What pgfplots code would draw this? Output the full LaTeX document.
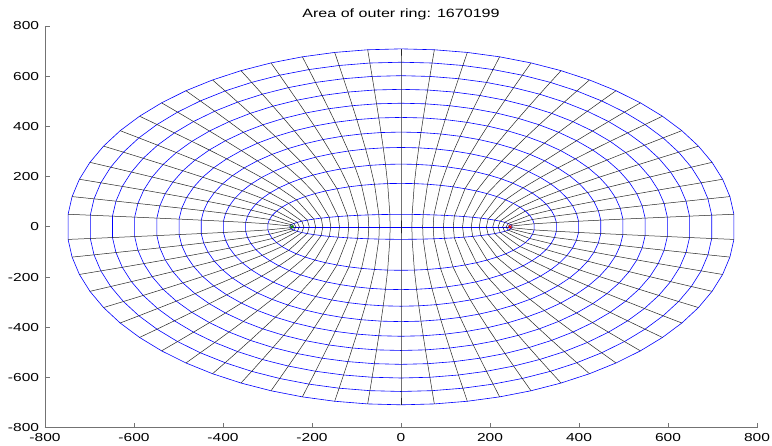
\documentclass[border=0pt]{standalone}
\usepackage{fontspec}
\setmainfont{Liberation Sans}[FakeStretch=1.34]
\usepackage{pgfplots}
\usepackage{pgfplotstable}
\pgfplotsset{compat=1.18}
\newcount\myq
% grid points: 12 rings (confocal ellipses, foci at +-245) x 63 rows (62 points + closing point)
\pgfplotstableread[row sep=\\]{
x y\\
0 0\\ 24.5 0\\ 48.7 0\\ 72.4 0\\ 95.4 0\\ 117.5 0\\ 138.3 0\\ 157.8 0\\ 175.8 0\\ 191.9 0\\ 206.2 0\\ 218.3 0\\ 228.4 0\\ 236.1 0\\ 241.4 0\\ 244.4 0\\
244.4 0\\ 241.4 0\\ 236.1 0\\ 228.4 0\\ 218.3 0\\ 206.2 0\\ 191.9 0\\ 175.8 0\\ 157.8 0\\ 138.3 0\\ 117.5 0\\ 95.4 0\\ 72.4 0\\ 48.7 0\\ 24.5 0\\ 0 0\\
-24.5 0\\ -48.7 0\\ -72.4 0\\ -95.4 0\\ -117.5 0\\ -138.3 0\\ -157.8 0\\ -175.8 0\\ -191.9 0\\ -206.2 0\\ -218.3 0\\ -228.4 0\\ -236.1 0\\ -241.4 0\\ -244.4 0\\
-244.4 0\\ -241.4 0\\ -236.1 0\\ -228.4 0\\ -218.3 0\\ -206.2 0\\ -191.9 0\\ -175.8 0\\ -157.8 0\\ -138.3 0\\ -117.5 0\\ -95.4 0\\ -72.4 0\\ -48.7 0\\ -24.5 0\\
0 0\\
0 49.8\\ 25 49.5\\ 49.7 48.8\\ 73.9 47.5\\ 97.4 45.8\\ 119.9 43.7\\ 141.2 41.1\\ 161.1 38.1\\ 179.3 34.7\\ 195.8 30.9\\ 210.4 26.9\\ 222.8 22.6\\ 233 18\\ 240.9 13.3\\ 246.4 8.5\\ 249.4 3.5\\
249.4 -3.5\\ 246.4 -8.5\\ 240.9 -13.3\\ 233 -18\\ 222.8 -22.6\\ 210.4 -26.9\\ 195.8 -30.9\\ 179.3 -34.7\\ 161.1 -38.1\\ 141.2 -41.1\\ 119.9 -43.7\\ 97.4 -45.8\\ 73.9 -47.5\\ 49.7 -48.8\\ 25 -49.5\\ 0 -49.8\\
-25 -49.5\\ -49.7 -48.8\\ -73.9 -47.5\\ -97.4 -45.8\\ -119.9 -43.7\\ -141.2 -41.1\\ -161.1 -38.1\\ -179.3 -34.7\\ -195.8 -30.9\\ -210.4 -26.9\\ -222.8 -22.6\\ -233 -18\\ -240.9 -13.3\\ -246.4 -8.5\\ -249.4 -3.5\\
-249.4 3.5\\ -246.4 8.5\\ -240.9 13.3\\ -233 18\\ -222.8 22.6\\ -210.4 26.9\\ -195.8 30.9\\ -179.3 34.7\\ -161.1 38.1\\ -141.2 41.1\\ -119.9 43.7\\ -97.4 45.8\\ -73.9 47.5\\ -49.7 48.8\\ -25 49.5\\
0 49.8\\
0 173.1\\ 30 172.3\\ 59.6 169.7\\ 88.7 165.4\\ 116.8 159.5\\ 143.8 151.9\\ 169.4 142.9\\ 193.3 132.4\\ 215.2 120.6\\ 235 107.6\\ 252.4 93.5\\ 267.4 78.5\\ 279.6 62.7\\ 289.1 46.3\\ 295.6 29.4\\ 299.2 12.2\\
299.2 -12.2\\ 295.6 -29.4\\ 289.1 -46.3\\ 279.6 -62.7\\ 267.4 -78.5\\ 252.4 -93.5\\ 235 -107.6\\ 215.2 -120.6\\ 193.3 -132.4\\ 169.4 -142.9\\ 143.8 -151.9\\ 116.8 -159.5\\ 88.7 -165.4\\ 59.6 -169.7\\ 30 -172.3\\ 0 -173.1\\
-30 -172.3\\ -59.6 -169.7\\ -88.7 -165.4\\ -116.8 -159.5\\ -143.8 -151.9\\ -169.4 -142.9\\ -193.3 -132.4\\ -215.2 -120.6\\ -235 -107.6\\ -252.4 -93.5\\ -267.4 -78.5\\ -279.6 -62.7\\ -289.1 -46.3\\ -295.6 -29.4\\ -299.2 -12.2\\
-299.2 12.2\\ -295.6 29.4\\ -289.1 46.3\\ -279.6 62.7\\ -267.4 78.5\\ -252.4 93.5\\ -235 107.6\\ -215.2 120.6\\ -193.3 132.4\\ -169.4 142.9\\ -143.8 151.9\\ -116.8 159.5\\ -88.7 165.4\\ -59.6 169.7\\ -30 172.3\\
0 173.1\\
0 250\\ 34.9 248.7\\ 69.5 245\\ 103.4 238.8\\ 136.3 230.2\\ 167.8 219.4\\ 197.6 206.3\\ 225.5 191.2\\ 251.1 174.1\\ 274.2 155.4\\ 294.5 135\\ 311.9 113.4\\ 326.2 90.6\\ 337.2 66.9\\ 344.9 42.5\\ 349.1 17.7\\
349.1 -17.7\\ 344.9 -42.5\\ 337.2 -66.9\\ 326.2 -90.6\\ 311.9 -113.4\\ 294.5 -135\\ 274.2 -155.4\\ 251.1 -174.1\\ 225.5 -191.2\\ 197.6 -206.3\\ 167.8 -219.4\\ 136.3 -230.2\\ 103.4 -238.8\\ 69.5 -245\\ 34.9 -248.7\\ 0 -250\\
-34.9 -248.7\\ -69.5 -245\\ -103.4 -238.8\\ -136.3 -230.2\\ -167.8 -219.4\\ -197.6 -206.3\\ -225.5 -191.2\\ -251.1 -174.1\\ -274.2 -155.4\\ -294.5 -135\\ -311.9 -113.4\\ -326.2 -90.6\\ -337.2 -66.9\\ -344.9 -42.5\\ -349.1 -17.7\\
-349.1 17.7\\ -344.9 42.5\\ -337.2 66.9\\ -326.2 90.6\\ -311.9 113.4\\ -294.5 135\\ -274.2 155.4\\ -251.1 174.1\\ -225.5 191.2\\ -197.6 206.3\\ -167.8 219.4\\ -136.3 230.2\\ -103.4 238.8\\ -69.5 245\\ -34.9 248.7\\
0 250\\
0 316.2\\ 39.9 314.6\\ 79.5 309.9\\ 118.2 302.1\\ 155.8 291.2\\ 191.8 277.5\\ 225.9 261\\ 257.7 241.8\\ 286.9 220.3\\ 313.3 196.5\\ 336.6 170.8\\ 356.5 143.4\\ 372.8 114.6\\ 385.4 84.6\\ 394.2 53.7\\ 399 22.4\\
399 -22.4\\ 394.2 -53.7\\ 385.4 -84.6\\ 372.8 -114.6\\ 356.5 -143.4\\ 336.6 -170.8\\ 313.3 -196.5\\ 286.9 -220.3\\ 257.7 -241.8\\ 225.9 -261\\ 191.8 -277.5\\ 155.8 -291.2\\ 118.2 -302.1\\ 79.5 -309.9\\ 39.9 -314.6\\ 0 -316.2\\
-39.9 -314.6\\ -79.5 -309.9\\ -118.2 -302.1\\ -155.8 -291.2\\ -191.8 -277.5\\ -225.9 -261\\ -257.7 -241.8\\ -286.9 -220.3\\ -313.3 -196.5\\ -336.6 -170.8\\ -356.5 -143.4\\ -372.8 -114.6\\ -385.4 -84.6\\ -394.2 -53.7\\ -399 -22.4\\
-399 22.4\\ -394.2 53.7\\ -385.4 84.6\\ -372.8 114.6\\ -356.5 143.4\\ -336.6 170.8\\ -313.3 196.5\\ -286.9 220.3\\ -257.7 241.8\\ -225.9 261\\ -191.8 277.5\\ -155.8 291.2\\ -118.2 302.1\\ -79.5 309.9\\ -39.9 314.6\\
0 316.2\\
0 377.5\\ 44.9 375.6\\ 89.4 369.9\\ 133 360.6\\ 175.2 347.7\\ 215.7 331.3\\ 254.1 311.5\\ 289.9 288.7\\ 322.8 263\\ 352.5 234.6\\ 378.7 203.9\\ 401 171.2\\ 419.4 136.8\\ 433.6 101\\ 443.5 64.2\\ 448.9 26.7\\
448.9 -26.7\\ 443.5 -64.2\\ 433.6 -101\\ 419.4 -136.8\\ 401 -171.2\\ 378.7 -203.9\\ 352.5 -234.6\\ 322.8 -263\\ 289.9 -288.7\\ 254.1 -311.5\\ 215.7 -331.3\\ 175.2 -347.7\\ 133 -360.6\\ 89.4 -369.9\\ 44.9 -375.6\\ 0 -377.5\\
-44.9 -375.6\\ -89.4 -369.9\\ -133 -360.6\\ -175.2 -347.7\\ -215.7 -331.3\\ -254.1 -311.5\\ -289.9 -288.7\\ -322.8 -263\\ -352.5 -234.6\\ -378.7 -203.9\\ -401 -171.2\\ -419.4 -136.8\\ -433.6 -101\\ -443.5 -64.2\\ -448.9 -26.7\\
-448.9 26.7\\ -443.5 64.2\\ -433.6 101\\ -419.4 136.8\\ -401 171.2\\ -378.7 203.9\\ -352.5 234.6\\ -322.8 263\\ -289.9 288.7\\ -254.1 311.5\\ -215.7 331.3\\ -175.2 347.7\\ -133 360.6\\ -89.4 369.9\\ -44.9 375.6\\
0 377.5\\
0 435.9\\ 49.9 433.7\\ 99.3 427.2\\ 147.8 416.4\\ 194.7 401.5\\ 239.7 382.5\\ 282.3 359.7\\ 322.1 333.4\\ 358.7 303.7\\ 391.7 270.9\\ 420.7 235.5\\ 445.6 197.7\\ 466 157.9\\ 481.8 116.6\\ 492.7 74.1\\ 498.7 30.8\\
498.7 -30.8\\ 492.7 -74.1\\ 481.8 -116.6\\ 466 -157.9\\ 445.6 -197.7\\ 420.7 -235.5\\ 391.7 -270.9\\ 358.7 -303.7\\ 322.1 -333.4\\ 282.3 -359.7\\ 239.7 -382.5\\ 194.7 -401.5\\ 147.8 -416.4\\ 99.3 -427.2\\ 49.9 -433.7\\ 0 -435.9\\
-49.9 -433.7\\ -99.3 -427.2\\ -147.8 -416.4\\ -194.7 -401.5\\ -239.7 -382.5\\ -282.3 -359.7\\ -322.1 -333.4\\ -358.7 -303.7\\ -391.7 -270.9\\ -420.7 -235.5\\ -445.6 -197.7\\ -466 -157.9\\ -481.8 -116.6\\ -492.7 -74.1\\ -498.7 -30.8\\
-498.7 30.8\\ -492.7 74.1\\ -481.8 116.6\\ -466 157.9\\ -445.6 197.7\\ -420.7 235.5\\ -391.7 270.9\\ -358.7 303.7\\ -322.1 333.4\\ -282.3 359.7\\ -239.7 382.5\\ -194.7 401.5\\ -147.8 416.4\\ -99.3 427.2\\ -49.9 433.7\\
0 435.9\\
0 492.4\\ 54.9 490\\ 109.3 482.6\\ 162.5 470.4\\ 214.2 453.5\\ 263.7 432.1\\ 310.6 406.4\\ 354.3 376.6\\ 394.5 343.1\\ 430.8 306.1\\ 462.8 266.1\\ 490.2 223.4\\ 512.6 178.4\\ 530 131.7\\ 542 83.7\\ 548.6 34.8\\
548.6 -34.8\\ 542 -83.7\\ 530 -131.7\\ 512.6 -178.4\\ 490.2 -223.4\\ 462.8 -266.1\\ 430.8 -306.1\\ 394.5 -343.1\\ 354.3 -376.6\\ 310.6 -406.4\\ 263.7 -432.1\\ 214.2 -453.5\\ 162.5 -470.4\\ 109.3 -482.6\\ 54.9 -490\\ 0 -492.4\\
-54.9 -490\\ -109.3 -482.6\\ -162.5 -470.4\\ -214.2 -453.5\\ -263.7 -432.1\\ -310.6 -406.4\\ -354.3 -376.6\\ -394.5 -343.1\\ -430.8 -306.1\\ -462.8 -266.1\\ -490.2 -223.4\\ -512.6 -178.4\\ -530 -131.7\\ -542 -83.7\\ -548.6 -34.8\\
-548.6 34.8\\ -542 83.7\\ -530 131.7\\ -512.6 178.4\\ -490.2 223.4\\ -462.8 266.1\\ -430.8 306.1\\ -394.5 343.1\\ -354.3 376.6\\ -310.6 406.4\\ -263.7 432.1\\ -214.2 453.5\\ -162.5 470.4\\ -109.3 482.6\\ -54.9 490\\
0 492.4\\
0 547.7\\ 59.9 545\\ 119.2 536.8\\ 177.3 523.2\\ 233.7 504.5\\ 287.7 480.7\\ 338.8 452\\ 386.5 418.9\\ 430.4 381.6\\ 470 340.5\\ 504.9 295.9\\ 534.7 248.4\\ 559.2 198.5\\ 578.1 146.5\\ 591.3 93.1\\ 598.5 38.7\\
598.5 -38.7\\ 591.3 -93.1\\ 578.1 -146.5\\ 559.2 -198.5\\ 534.7 -248.4\\ 504.9 -295.9\\ 470 -340.5\\ 430.4 -381.6\\ 386.5 -418.9\\ 338.8 -452\\ 287.7 -480.7\\ 233.7 -504.5\\ 177.3 -523.2\\ 119.2 -536.8\\ 59.9 -545\\ 0 -547.7\\
-59.9 -545\\ -119.2 -536.8\\ -177.3 -523.2\\ -233.7 -504.5\\ -287.7 -480.7\\ -338.8 -452\\ -386.5 -418.9\\ -430.4 -381.6\\ -470 -340.5\\ -504.9 -295.9\\ -534.7 -248.4\\ -559.2 -198.5\\ -578.1 -146.5\\ -591.3 -93.1\\ -598.5 -38.7\\
-598.5 38.7\\ -591.3 93.1\\ -578.1 146.5\\ -559.2 198.5\\ -534.7 248.4\\ -504.9 295.9\\ -470 340.5\\ -430.4 381.6\\ -386.5 418.9\\ -338.8 452\\ -287.7 480.7\\ -233.7 504.5\\ -177.3 523.2\\ -119.2 536.8\\ -59.9 545\\
0 547.7\\
0 602.1\\ 64.9 599.1\\ 129.1 590.1\\ 192.1 575.2\\ 253.1 554.5\\ 311.6 528.4\\ 367 496.9\\ 418.7 460.5\\ 466.3 419.5\\ 509.2 374.2\\ 547 325.3\\ 579.3 273.1\\ 605.8 218.2\\ 626.3 161.1\\ 640.5 102.3\\ 648.4 42.6\\
648.4 -42.6\\ 640.5 -102.3\\ 626.3 -161.1\\ 605.8 -218.2\\ 579.3 -273.1\\ 547 -325.3\\ 509.2 -374.2\\ 466.3 -419.5\\ 418.7 -460.5\\ 367 -496.9\\ 311.6 -528.4\\ 253.1 -554.5\\ 192.1 -575.2\\ 129.1 -590.1\\ 64.9 -599.1\\ 0 -602.1\\
-64.9 -599.1\\ -129.1 -590.1\\ -192.1 -575.2\\ -253.1 -554.5\\ -311.6 -528.4\\ -367 -496.9\\ -418.7 -460.5\\ -466.3 -419.5\\ -509.2 -374.2\\ -547 -325.3\\ -579.3 -273.1\\ -605.8 -218.2\\ -626.3 -161.1\\ -640.5 -102.3\\ -648.4 -42.6\\
-648.4 42.6\\ -640.5 102.3\\ -626.3 161.1\\ -605.8 218.2\\ -579.3 273.1\\ -547 325.3\\ -509.2 374.2\\ -466.3 419.5\\ -418.7 460.5\\ -367 496.9\\ -311.6 528.4\\ -253.1 554.5\\ -192.1 575.2\\ -129.1 590.1\\ -64.9 599.1\\
0 602.1\\
0 655.7\\ 69.9 652.5\\ 139.1 642.7\\ 206.9 626.4\\ 272.6 604\\ 335.6 575.5\\ 395.2 541.2\\ 451 501.5\\ 502.1 456.9\\ 548.3 407.6\\ 589 354.3\\ 623.8 297.4\\ 652.4 237.6\\ 674.5 175.4\\ 689.8 111.5\\ 698.2 46.4\\
698.2 -46.4\\ 689.8 -111.5\\ 674.5 -175.4\\ 652.4 -237.6\\ 623.8 -297.4\\ 589 -354.3\\ 548.3 -407.6\\ 502.1 -456.9\\ 451 -501.5\\ 395.2 -541.2\\ 335.6 -575.5\\ 272.6 -604\\ 206.9 -626.4\\ 139.1 -642.7\\ 69.9 -652.5\\ 0 -655.7\\
-69.9 -652.5\\ -139.1 -642.7\\ -206.9 -626.4\\ -272.6 -604\\ -335.6 -575.5\\ -395.2 -541.2\\ -451 -501.5\\ -502.1 -456.9\\ -548.3 -407.6\\ -589 -354.3\\ -623.8 -297.4\\ -652.4 -237.6\\ -674.5 -175.4\\ -689.8 -111.5\\ -698.2 -46.4\\
-698.2 46.4\\ -689.8 111.5\\ -674.5 175.4\\ -652.4 237.6\\ -623.8 297.4\\ -589 354.3\\ -548.3 407.6\\ -502.1 456.9\\ -451 501.5\\ -395.2 541.2\\ -335.6 575.5\\ -272.6 604\\ -206.9 626.4\\ -139.1 642.7\\ -69.9 652.5\\
0 655.7\\
0 708.9\\ 74.9 705.3\\ 149 694.7\\ 221.6 677.2\\ 292.1 652.9\\ 359.6 622.1\\ 423.5 585\\ 483.2 542.2\\ 538 493.9\\ 587.5 440.6\\ 631.1 383\\ 668.4 321.5\\ 699 256.9\\ 722.7 189.6\\ 739.1 120.5\\ 748.1 50.1\\
748.1 -50.1\\ 739.1 -120.5\\ 722.7 -189.6\\ 699 -256.9\\ 668.4 -321.5\\ 631.1 -383\\ 587.5 -440.6\\ 538 -493.9\\ 483.2 -542.2\\ 423.5 -585\\ 359.6 -622.1\\ 292.1 -652.9\\ 221.6 -677.2\\ 149 -694.7\\ 74.9 -705.3\\ 0 -708.9\\
-74.9 -705.3\\ -149 -694.7\\ -221.6 -677.2\\ -292.1 -652.9\\ -359.6 -622.1\\ -423.5 -585\\ -483.2 -542.2\\ -538 -493.9\\ -587.5 -440.6\\ -631.1 -383\\ -668.4 -321.5\\ -699 -256.9\\ -722.7 -189.6\\ -739.1 -120.5\\ -748.1 -50.1\\
-748.1 50.1\\ -739.1 120.5\\ -722.7 189.6\\ -699 256.9\\ -668.4 321.5\\ -631.1 383\\ -587.5 440.6\\ -538 493.9\\ -483.2 542.2\\ -423.5 585\\ -359.6 622.1\\ -292.1 652.9\\ -221.6 677.2\\ -149 694.7\\ -74.9 705.3\\
0 708.9\\
}\grid
\begin{document}
\begin{tikzpicture}
\useasboundingbox (0,0) rectangle (772pt,445pt);
\fill[white] (0,0) rectangle (772pt,445pt);
\begin{axis}[
  at={(45pt,17.3pt)}, anchor=south west,
  scale only axis, width=712pt, height=401.7pt,
  xmin=-800, xmax=800, ymin=-800, ymax=800,
  axis x line*=bottom, axis y line*=left,
  axis line style={draw=black!55, line width=0.9pt},
  tick style={draw=black!55, line width=0.8pt},
  tick align=inside, major tick length=5pt,
  xtick={-800,-600,...,800}, ytick={-800,-600,...,800},
  /pgf/number format/assume math mode=true,
  tick label style={font=\fontsize{11.6}{13}\selectfont, text=black},
  xticklabel style={anchor=north, inner sep=0pt, yshift=-5.6pt},
  yticklabel style={anchor=east, inner sep=0pt, xshift=-5.7pt},
  title={Area of outer ring: 1670199},
  title style={font=\fontsize{12}{14}\selectfont, anchor=base, yshift=2.7pt, inner sep=0pt},
  clip=false,
]
% ellipses (blue): rows 63*i ... 63*i+62
\pgfplotsinvokeforeach{0,...,11}{
  \addplot[blue, line width=0.6pt, mark=none,
    x filter/.code={\myq=\coordindex\relax\divide\myq by 63\relax
      \ifnum\myq=#1\relax\else\def\pgfmathresult{}\fi}] table {\grid};
}
% hyperbolas (black): every 63rd row starting at j
\pgfplotsinvokeforeach{0,...,61}{
  \addplot[black!85, line width=0.5pt, mark=none,
    x filter/.code={\myq=\coordindex\relax\divide\myq by 63\relax
      \multiply\myq by 63\relax\advance\myq by #1\relax
      \ifnum\myq=\coordindex\relax\else\def\pgfmathresult{}\fi}] table {\grid};
}
\addplot[only marks, mark=x, mark size=2pt, line width=0.8pt, color=green!60!black] coordinates {(-245,0)};
\addplot[only marks, mark=x, mark size=2pt, line width=0.8pt, color=red] coordinates {(245,0)};
\end{axis}
\end{tikzpicture}
\end{document}
